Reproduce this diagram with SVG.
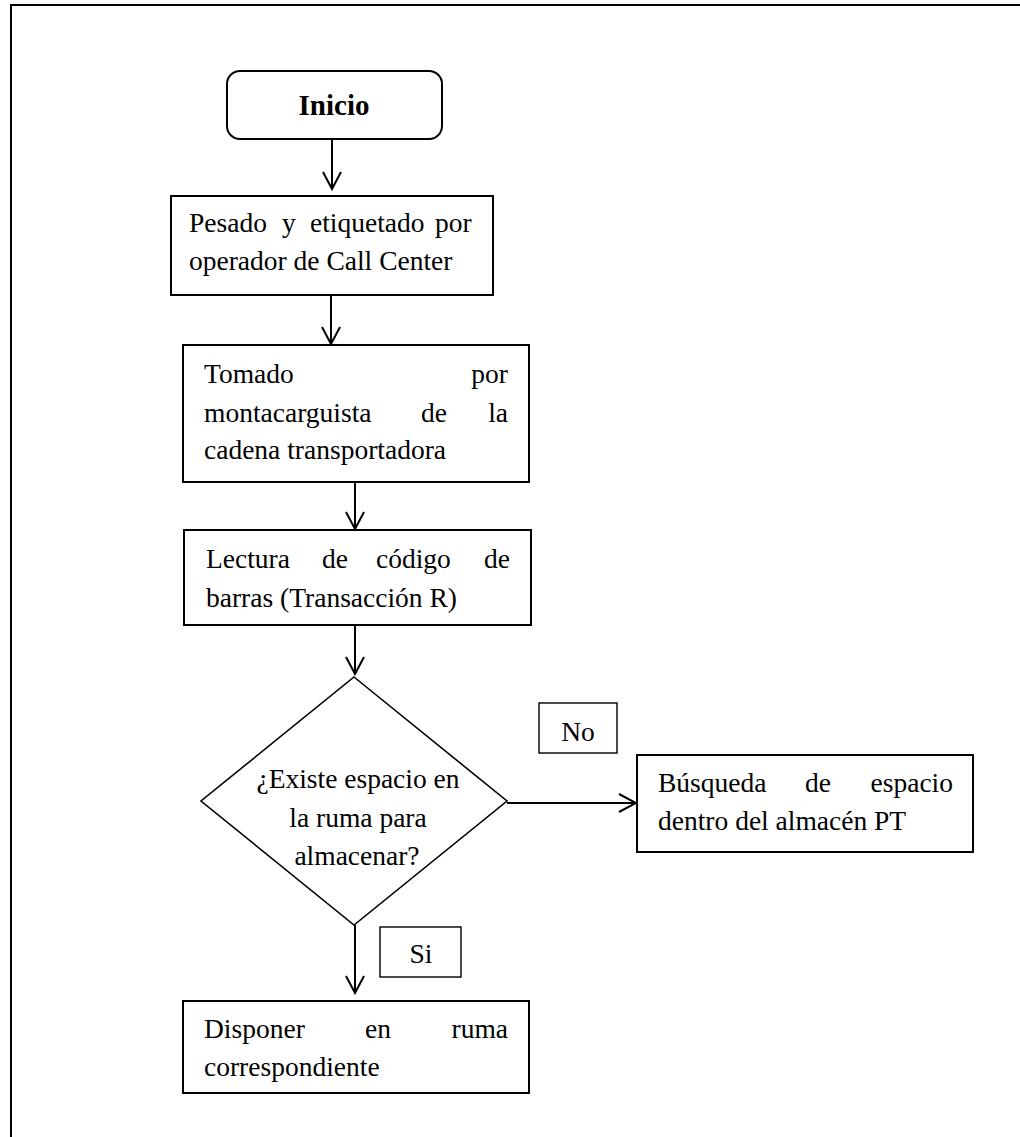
<svg xmlns="http://www.w3.org/2000/svg" width="1020" height="1137" viewBox="0 0 1020 1137">
<style>
.box{fill:#fff;stroke:#000;stroke-width:2}
.lbl{fill:#fff;stroke:#000;stroke-width:1.4}
.t{font-family:"Liberation Serif","Times New Roman",serif;font-size:27.5px;fill:#000}
.b{font-family:"Liberation Serif","Times New Roman",serif;font-size:29px;font-weight:bold;fill:#000}
.c{stroke:#000;stroke-width:2;fill:none}
</style>
<defs>
<marker id="ah" viewBox="0 0 20 20" refX="18" refY="10" markerWidth="20" markerHeight="20" markerUnits="userSpaceOnUse" orient="auto">
<path d="M1,1 L18,10 L1,19" fill="none" stroke="#000" stroke-width="2"/>
</marker>
</defs>
<rect width="1020" height="1137" fill="#fff"/>
<polyline points="11,1137 11,5 1020,5" fill="none" stroke="#000" stroke-width="2"/>

<g id="connectors">
<line class="c" x1="332" y1="139" x2="332" y2="189" marker-end="url(#ah)"/>
<line class="c" x1="331" y1="295" x2="331" y2="344" marker-end="url(#ah)"/>
<line class="c" x1="355" y1="482" x2="355" y2="529" marker-end="url(#ah)"/>
<line class="c" x1="355" y1="625" x2="355" y2="674" marker-end="url(#ah)"/>
<line class="c" x1="507" y1="803" x2="636" y2="803" marker-end="url(#ah)"/>
<line class="c" x1="355" y1="925" x2="355" y2="993" marker-end="url(#ah)"/>
</g>

<g id="inicio">
<rect class="box" x="227" y="71" width="215" height="68" rx="13"/>
<text class="b" x="334" y="115" text-anchor="middle">Inicio</text>
</g>

<g id="pesado">
<rect class="box" x="171" y="196" width="322" height="99"/>
<text class="t" y="232"><tspan x="189">Pesado</tspan><tspan x="282">y</tspan><tspan x="310">etiquetado</tspan><tspan x="435">por</tspan></text>
<text class="t" x="189" y="270">operador de Call Center</text>
</g>

<g id="tomado">
<rect class="box" x="183" y="345" width="346" height="137"/>
<text class="t" y="383"><tspan x="204">Tomado</tspan><tspan x="508" text-anchor="end">por</tspan></text>
<text class="t" y="422"><tspan x="204">montacarguista</tspan><tspan x="421">de</tspan><tspan x="508" text-anchor="end">la</tspan></text>
<text class="t" x="204" y="459">cadena transportadora</text>
</g>

<g id="lectura">
<rect class="box" x="184" y="530" width="347" height="95"/>
<text class="t" y="568"><tspan x="206">Lectura</tspan><tspan x="322">de</tspan><tspan x="376">código</tspan><tspan x="510" text-anchor="end">de</tspan></text>
<text class="t" x="206" y="607">barras (Transacción R)</text>
</g>

<g id="decision">
<polygon class="box" style="stroke-width:1.6" points="354,677 507,801 354,925 201,801"/>
<text class="t" x="358" y="788" text-anchor="middle">¿Existe espacio en</text>
<text class="t" x="358" y="827" text-anchor="middle">la ruma para</text>
<text class="t" x="357" y="865" text-anchor="middle">almacenar?</text>
</g>

<g id="label-no">
<rect class="lbl" x="539" y="703" width="78" height="50"/>
<text class="t" x="578" y="741" text-anchor="middle">No</text>
</g>

<g id="busqueda">
<rect class="box" x="637" y="755" width="336" height="97"/>
<text class="t" y="792"><tspan x="658">Búsqueda</tspan><tspan x="805">de</tspan><tspan x="953" text-anchor="end">espacio</tspan></text>
<text class="t" x="658" y="830">dentro del almacén PT</text>
</g>

<g id="label-si">
<rect class="lbl" x="380" y="927" width="81" height="50"/>
<text class="t" x="421" y="963" text-anchor="middle">Si</text>
</g>

<g id="disponer">
<rect class="box" x="183" y="1001" width="346" height="92"/>
<text class="t" y="1038"><tspan x="204">Disponer</tspan><tspan x="365">en</tspan><tspan x="508" text-anchor="end">ruma</tspan></text>
<text class="t" x="204" y="1076">correspondiente</text>
</g>
</svg>
